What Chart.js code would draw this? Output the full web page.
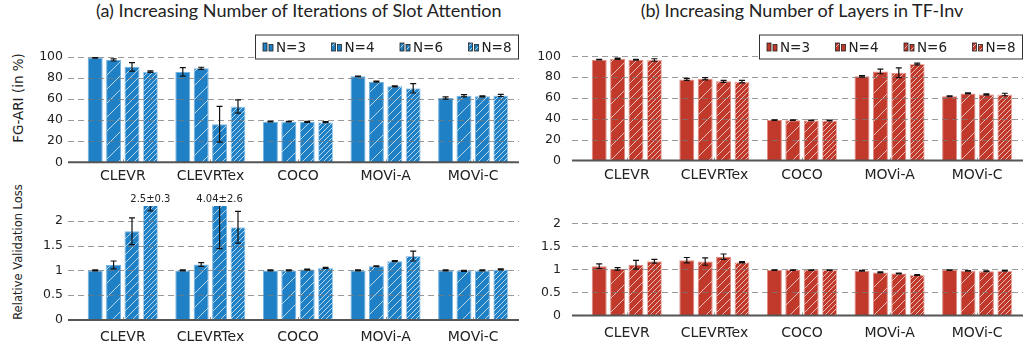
<!DOCTYPE html>
<html>
<head>
<meta charset="utf-8">
<script src="https://cdn.jsdelivr.net/npm/chart.js@4.4.1/dist/chart.umd.min.js"></script>
<style>
  body { margin: 0; width: 1025px; height: 345px; background: #fff; position: relative; overflow: hidden; font-family: "DejaVu Sans", sans-serif; color: #222; }
  canvas { position: absolute; }
  .title { position: absolute; top: -1px; font-family: Lato, sans-serif; font-size: 18px; text-align: center; white-space: nowrap; }
  .ytitle { position: absolute; transform: translate(-50%, -50%) rotate(-90deg); white-space: nowrap; }
</style>
</head>
<body>
<div class="title" style="left:96px;width:400px">(a) Increasing Number of Iterations of Slot Attention</div>
<div class="title" style="left:602px;width:400px">(b) Increasing Number of Layers in TF-Inv</div>
<div class="ytitle" style="left:18px;top:98px;font-size:13.5px">FG-ARI (in %)</div>
<div class="ytitle" style="left:18px;top:252px;font-size:11.5px">Relative Validation Loss</div>
<canvas id="slotAri" width="520" height="190" style="left:0;top:0"></canvas>
<canvas id="slotLoss" width="520" height="165" style="left:0;top:180px"></canvas>
<canvas id="layerAri" width="520" height="190" style="left:505px;top:0"></canvas>
<canvas id="layerLoss" width="520" height="165" style="left:505px;top:180px"></canvas>
<script>
const categories = ['CLEVR', 'CLEVRTex', 'COCO', 'MOVi-A', 'MOVi-C'];
const seriesLabels = ['N=3', 'N=4', 'N=6', 'N=8'];

// rows: N=3, N=4, N=6, N=8
const slotAriMean = [
  [98.8, 85.6, 38.5, 81.4, 60.9],
  [96.9, 89.0, 38.5, 76.3, 63.0],
  [90.4, 36.0, 38.2, 72.0, 62.5],
  [85.8, 52.8, 38.0, 70.0, 63.3]
];
const slotAriErr = [
  [0.3, 4.0, 0.3, 0.3, 1.0],
  [1.0, 1.0, 0.3, 0.5, 1.0],
  [4.0, 16.9, 0.5, 0.5, 0.5],
  [0.7, 6.3, 0.5, 4.4, 1.0]
];
const slotLossMean = [
  [1.0, 1.0, 1.0, 1.0, 1.0],
  [1.11, 1.12, 1.0, 1.085, 0.99],
  [1.79, 4.04, 1.017, 1.186, 1.0],
  [2.5, 1.87, 1.05, 1.29, 1.02]
];
const slotLossErr = [
  [0.01, 0.01, 0.01, 0.01, 0.01],
  [0.08, 0.037, 0.01, 0.01, 0.01],
  [0.27, 2.6, 0.01, 0.01, 0.01],
  [0.3, 0.32, 0.01, 0.1, 0.01]
];
const layerAriMean = [
  [96.8, 77.9, 38.8, 80.8, 61.8],
  [97.8, 78.5, 38.7, 85.5, 64.4],
  [96.8, 76.0, 38.5, 84.2, 63.4],
  [96.5, 75.7, 38.4, 92.7, 63.4]
];
const layerAriErr = [
  [0.3, 1.0, 0.3, 0.8, 0.4],
  [0.6, 1.0, 0.3, 2.2, 0.5],
  [0.4, 1.0, 0.3, 4.7, 0.6],
  [1.2, 1.2, 0.3, 0.8, 1.2]
];
const layerLossMean = [
  [1.07, 1.2, 0.985, 0.97, 0.985],
  [1.01, 1.17, 0.985, 0.935, 0.97],
  [1.1, 1.276, 0.985, 0.91, 0.96],
  [1.177, 1.155, 0.985, 0.88, 0.97]
];
const layerLossErr = [
  [0.05, 0.058, 0.005, 0.01, 0.005],
  [0.027, 0.08, 0.005, 0.01, 0.005],
  [0.095, 0.058, 0.005, 0.01, 0.01],
  [0.04, 0.015, 0.005, 0.01, 0.005]
];

const hatchSteps = [0, 14, 8, 5];

function hatch(base, step) {
  if (!step) return base;
  const c = document.createElement('canvas');
  c.width = c.height = step;
  const g = c.getContext('2d');
  g.fillStyle = base;
  g.fillRect(0, 0, step, step);
  g.strokeStyle = 'rgba(255,255,255,0.85)';
  g.lineWidth = 0.8;
  g.beginPath();
  g.moveTo(0, step); g.lineTo(step, 0);
  g.moveTo(-1, 1); g.lineTo(1, -1);
  g.moveTo(step - 1, step + 1); g.lineTo(step + 1, step - 1);
  g.stroke();
  return g.createPattern(c, 'repeat');
}

// dashed grid + axis line, drawn over the bars like the original
const gridLines = {
  id: 'gridLines',
  afterDatasetsDraw(chart, args, opts) {
    const {ctx, chartArea: a, scales: {x, y}} = chart;
    ctx.save();
    ctx.strokeStyle = 'rgba(120,120,120,0.75)';
    ctx.lineWidth = 1;
    ctx.setLineDash([6, 4]);
    y.ticks.forEach(t => {
      if (t.value <= 0 || t.value > opts.labelMax) return;
      const py = Math.round(y.getPixelForValue(t.value)) + 0.5;
      ctx.beginPath();
      ctx.moveTo(a.left - 11, py);
      ctx.lineTo(a.right + 2, py);
      ctx.stroke();
    });
    ctx.setLineDash([]);
    const y0 = y.getPixelForValue(0);
    ctx.strokeStyle = '#999';
    categories.forEach((c, i) => {
      const px = Math.round(x.getPixelForValue(i)) + 0.5;
      ctx.beginPath(); ctx.moveTo(px, y0 - 3); ctx.lineTo(px, y0); ctx.stroke();
    });
    ctx.strokeStyle = '#555';
    ctx.lineWidth = 2;
    ctx.beginPath();
    ctx.moveTo(a.left - 11, y0);
    ctx.lineTo(a.right + 2, y0);
    ctx.stroke();
    ctx.restore();
  }
};

const errorBars = {
  id: 'errorBars',
  afterDatasetsDraw(chart) {
    const {ctx, chartArea: a, scales: {y}} = chart;
    ctx.save();
    ctx.strokeStyle = '#111';
    ctx.lineWidth = 1.2;
    chart.data.datasets.forEach((ds, di) => {
      chart.getDatasetMeta(di).data.forEach((bar, i) => {
        const v = ds.data[i], e = ds.errors[i];
        const hi = y.getPixelForValue(v + e), lo = y.getPixelForValue(v - e);
        const top = Math.max(hi, a.top);
        ctx.beginPath();
        ctx.moveTo(bar.x, top); ctx.lineTo(bar.x, lo);
        if (hi >= a.top) { ctx.moveTo(bar.x - 3, hi); ctx.lineTo(bar.x + 3, hi); }
        ctx.moveTo(bar.x - 3, lo); ctx.lineTo(bar.x + 3, lo);
        ctx.stroke();
        if (v > y.max) {
          ctx.fillStyle = '#222';
          ctx.font = '10px "DejaVu Sans"';
          ctx.textAlign = 'center';
          ctx.textBaseline = 'bottom';
          ctx.fillText(v + '\u00b1' + e, bar.x, a.top - 2);
        }
      });
    });
    ctx.restore();
  }
};

const boxLegend = {
  id: 'boxLegend',
  afterDraw(chart, args, opts) {
    if (!opts.show) return;
    const {ctx, chartArea: a} = chart;
    const right = a.right + 2, left = right - 264, top = a.top, h = 25;
    const cy = top + h / 2;
    ctx.save();
    ctx.fillStyle = '#fff';
    ctx.fillRect(left, top, right - left, h);
    ctx.strokeStyle = '#333';
    ctx.lineWidth = 1;
    ctx.strokeRect(left + 0.5, top + 0.5, right - left - 1, h - 1);
    chart.data.datasets.forEach((ds, i) => {
      const x0 = left + 8 + i * 68.5;
      ctx.fillStyle = ds.backgroundColor;
      ctx.fillRect(x0, cy - 4, 4, 8);
      ctx.fillRect(x0 + 6, cy - 2.5, 4, 6.5);
      ctx.strokeStyle = '#222';
      ctx.lineWidth = 0.8;
      ctx.strokeRect(x0, cy - 4, 4, 8);
      ctx.strokeRect(x0 + 6, cy - 2.5, 4, 6.5);
      ctx.fillStyle = '#222';
      ctx.font = '13.5px "DejaVu Sans"';
      ctx.textAlign = 'left';
      ctx.textBaseline = 'middle';
      ctx.fillText(ds.label, x0 + 13, cy + 1);
    });
    ctx.restore();
  }
};

function makePanel(id, means, errs, base, edges, cfg) {
  const datasets = seriesLabels.map((lab, k) => ({
    label: lab,
    data: means[k],
    errors: errs[k],
    backgroundColor: hatch(base, hatchSteps[k]),
    borderColor: edges[k],
    borderWidth: 1,
    categoryPercentage: 0.84,
    barPercentage: 0.815
  }));
  new Chart(document.getElementById(id), {
    type: 'bar',
    data: { labels: categories, datasets: datasets },
    plugins: [gridLines, errorBars, boxLegend],
    options: {
      responsive: false,
      animation: false,
      layout: { padding: { top: cfg.padTop, right: cfg.padRight, left: 0, bottom: 0 } },
      plugins: {
        legend: { display: false },
        tooltip: { enabled: false },
        gridLines: { labelMax: cfg.labelMax },
        boxLegend: { show: cfg.legend }
      },
      scales: {
        x: {
          grid: { display: false, drawTicks: false },
          border: { display: false },
          ticks: { font: { family: 'DejaVu Sans', size: 14 }, color: '#222', padding: cfg.xPad, maxRotation: 0 },
          afterFit: s => { s.height = cfg.xHeight; }
        },
        y: {
          min: 0,
          max: cfg.max,
          grid: { display: false, drawTicks: false },
          border: { display: false },
          ticks: {
            stepSize: cfg.step,
            font: { family: 'DejaVu Sans', size: 12.5 },
            color: '#222',
            padding: cfg.tickPad,
            callback: v => (v > cfg.labelMax + 1e-9 ? null : String(v))
          },
          afterFit: s => { s.width = cfg.yWidth; }
        }
      }
    }
  });
}

const blue = '#1f80c6', red = '#c1392b';
const blueEdges = ['#72b2e0', '#72b2e0', '#72b2e0', '#a8cfee'];
const redEdges = ['#e08a80', '#e08a80', '#e08a80', '#ecb2aa'];

makePanel('slotAri', slotAriMean, slotAriErr, blue, blueEdges,
  { padTop: 34.5, padRight: 3, xHeight: 27.7, xPad: 6, yWidth: 79, tickPad: 16, max: 121, step: 20, labelMax: 100, legend: true });
makePanel('slotLoss', slotLossMean, slotLossErr, blue, blueEdges,
  { padTop: 26, padRight: 3, xHeight: 25, xPad: 9, yWidth: 79, tickPad: 16, max: 2.3, step: 0.5, labelMax: 2, legend: false });
makePanel('layerAri', layerAriMean, layerAriErr, red, redEdges,
  { padTop: 34.5, padRight: 4, xHeight: 27.7, xPad: 6, yWidth: 78, tickPad: 22, max: 121, step: 20, labelMax: 100, legend: true });
makePanel('layerLoss', layerLossMean, layerLossErr, red, redEdges,
  { padTop: 26, padRight: 4, xHeight: 25, xPad: 9, yWidth: 78, tickPad: 22, max: 2.3, step: 0.5, labelMax: 2, legend: false });
</script>
</body>
</html>
